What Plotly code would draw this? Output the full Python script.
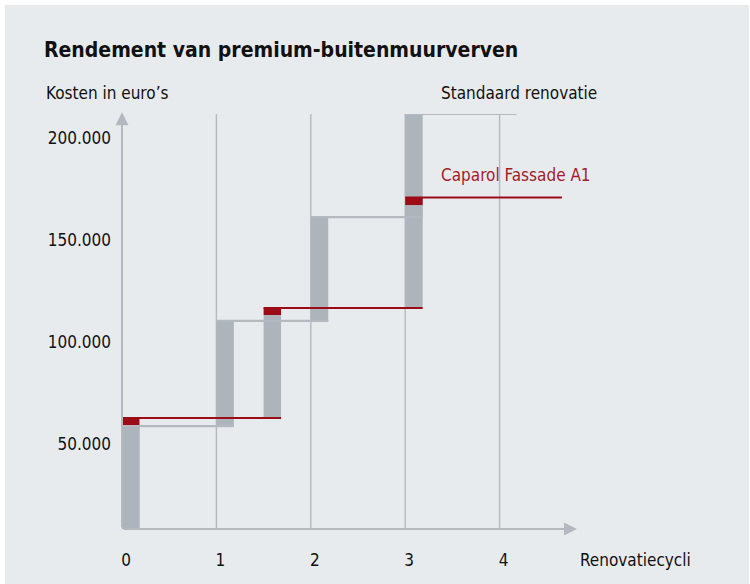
import plotly.graph_objects as go

# ---------------- data ----------------
std_cycles = [0, 1, 2, 3]
std_cost = [58600, 110200, 161200, 211800]          # cumulative cost, standard renovation
std_line_end = 4.18

cap_cycles = [0, 1.5, 3]
cap_paint = [58600, 113100, 167100]                 # cumulative cost before premium surcharge
cap_total = [62500, 116600, 170800]                 # cumulative cost incl. premium paint
cap_line_end = 4.66

x_ticks = [0, 1, 2, 3, 4]
y_ticks = [50000, 100000, 150000, 200000]

# ---------------- styling ----------------
BG = "#e8ebee"
GRAY = "#adb4bb"
LINE_GRAY = "#b3b9bf"
RED = "#9c0c16"
RED_TXT = "#a31c2a"
FONT = "Liberation Sans Narrow, DejaVu Sans Condensed, Arial Narrow, Liberation Sans, sans-serif"
BAR_W = 0.185

W, H = 750, 584
L, R, T, B = 122, 173, 114, 55
X_MAX = 4.82
Y_MIN, Y_MAX = 8050, 211800


def px_x(px):
    return (px - L) / (W - L - R)


def px_y(py):
    return (H - B - py) / (H - T - B)


fig = go.Figure()

# gray bars: standard renovation
std_base = [0] + std_cost[:-1]
fig.add_trace(go.Bar(x=std_cycles, y=[c - b for c, b in zip(std_cost, std_base)], base=std_base,
                     width=BAR_W, offset=0, marker=dict(color=GRAY, line=dict(width=0)),
                     showlegend=False, hoverinfo="skip"))

# gray bars: Caparol renovation
cap_base = [0] + cap_total[:-1]
fig.add_trace(go.Bar(x=cap_cycles, y=[c - b for c, b in zip(cap_paint, cap_base)], base=cap_base,
                     width=BAR_W, offset=0, marker=dict(color=GRAY, line=dict(width=0)),
                     showlegend=False, hoverinfo="skip"))

# standard step lines
sx, sy = [], []
for i, (c, v) in enumerate(zip(std_cycles, std_cost)):
    end = std_cycles[i + 1] + BAR_W if i + 1 < len(std_cycles) else std_line_end
    sx += [c, end, None]
    sy += [v, v, None]
fig.add_trace(go.Scatter(x=sx, y=sy, mode="lines", line=dict(color=LINE_GRAY, width=2.2),
                         showlegend=False, hoverinfo="skip", cliponaxis=False))

# red premium blocks
fig.add_trace(go.Bar(x=cap_cycles, y=[t - p for t, p in zip(cap_total, cap_paint)], base=cap_paint,
                     width=BAR_W, offset=0, marker=dict(color=RED, line=dict(width=0)),
                     showlegend=False, hoverinfo="skip"))

# Caparol step lines
cx, cy = [], []
for i, (c, v) in enumerate(zip(cap_cycles, cap_total)):
    end = cap_cycles[i + 1] + BAR_W if i + 1 < len(cap_cycles) else cap_line_end
    cx += [c, end, None]
    cy += [v, v, None]
fig.add_trace(go.Scatter(x=cx, y=cy, mode="lines", line=dict(color=RED, width=2),
                         showlegend=False, hoverinfo="skip"))

# axis arrows
fig.add_annotation(x=0, y=Y_MAX + 800, ax=0, ay=Y_MIN, xref="x", yref="y", axref="x", ayref="y",
                   text="", showarrow=True, arrowhead=2, arrowsize=1.3, arrowwidth=2, arrowcolor=LINE_GRAY)
fig.add_annotation(x=X_MAX, y=Y_MIN, ax=0, ay=Y_MIN, xref="x", yref="y", axref="x", ayref="y",
                   text="", showarrow=True, arrowhead=2, arrowsize=1.3, arrowwidth=2, arrowcolor=LINE_GRAY)

# texts
fig.add_annotation(x=px_x(44), y=px_y(93), xref="paper", yref="paper", xanchor="left", yanchor="middle",
                   text="Kosten in euro’s", showarrow=False, font=dict(size=17, color="#111111"))
fig.add_annotation(x=px_x(439), y=px_y(93), xref="paper", yref="paper", xanchor="left", yanchor="middle",
                   text="Standaard renovatie", showarrow=False, font=dict(size=17, color="#111111"))
fig.add_annotation(x=px_x(439), y=px_y(175), xref="paper", yref="paper", xanchor="left", yanchor="middle",
                   text="Caparol Fassade A1", showarrow=False, font=dict(size=17, color=RED_TXT))
fig.add_annotation(x=px_x(578), y=px_y(560), xref="paper", yref="paper", xanchor="left", yanchor="middle",
                   text="Renovatiecycli", showarrow=False, font=dict(size=17, color="#111111"))

# white page border
fig.add_shape(type="rect", xref="paper", yref="paper", x0=px_x(0), x1=px_x(W), y0=px_y(0), y1=px_y(5),
              fillcolor="white", line=dict(width=0), layer="above")
fig.add_shape(type="rect", xref="paper", yref="paper", x0=px_x(0), x1=px_x(5), y0=px_y(H), y1=px_y(0),
              fillcolor="white", line=dict(width=0), layer="above")
fig.add_shape(type="rect", xref="paper", yref="paper", x0=px_x(749), x1=px_x(W), y0=px_y(H), y1=px_y(0),
              fillcolor="white", line=dict(width=0), layer="above")

fig.update_layout(
    width=W, height=H,
    margin=dict(l=L, r=R, t=T, b=B, autoexpand=False),
    paper_bgcolor=BG, plot_bgcolor=BG,
    barmode="overlay",
    separators=",.",
    font=dict(family=FONT, size=17, color="#111111"),
    title=dict(text="Rendement van premium-buitenmuurverven", x=44 / W, xanchor="left",
               y=1 - 50 / H, yanchor="middle", xref="container", yref="container",
               font=dict(size=21, weight="bold", color="#111111")),
    xaxis=dict(range=[0, X_MAX], tickvals=x_ticks, ticktext=[str(t) for t in x_ticks],
               showgrid=False, zeroline=False, showline=False, ticks="",
               ticklabelstandoff=19, ticklabelshift=4, automargin=False, fixedrange=True),
    yaxis=dict(range=[Y_MIN, Y_MAX], tickvals=y_ticks, tickformat=",d",
               showgrid=False, zeroline=False, showline=False, ticks="",
               ticklabelstandoff=10, automargin=False, fixedrange=True),
)

# vertical grid lines at cycles 1..4
for t in x_ticks[1:]:
    fig.add_shape(type="line", xref="x", yref="y", x0=t, x1=t, y0=Y_MIN, y1=Y_MAX,
                  line=dict(color=LINE_GRAY, width=1.4), layer="below")

fig.write_html("out.html", config={"displayModeBar": False},
               post_script="document.body.style.margin='0';")
